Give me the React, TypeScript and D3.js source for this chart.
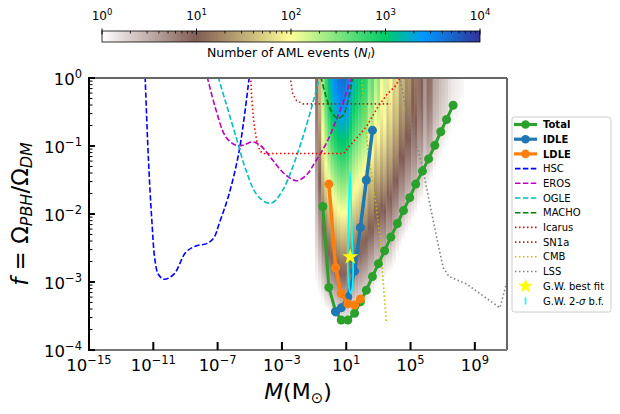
import React from 'react';
import * as d3 from 'd3';

const W = 620;
const H = 414;
const PL = 89, PR = 507, PT = 78, PB = 350;

// ---------- data (log10 values) ----------
const xTickExps = [-15, -11, -7, -3, 1, 5, 9];
const yTickExps = [0, -1, -2, -3, -4];
const cbTickExps = [0, 1, 2, 3, 4];

// heat map: mass bin centres (log10 M), log10 N at f = 1, log10 f where N falls to 1, profile shape
const heatLogM = [-0.84, -0.65, -0.45, -0.26, -0.07, 0.12, 0.32, 0.51, 0.70, 0.89, 1.09, 1.28, 1.47, 1.66, 1.86, 2.05,
  2.24, 2.43, 2.62, 2.82, 3.01, 3.20, 3.39, 3.59, 3.78, 3.97, 4.16, 4.36, 4.55, 4.74, 4.93, 5.13,
  5.32, 5.51, 5.70, 5.90, 6.09, 6.28, 6.47, 6.66, 6.86, 7.05, 7.24, 7.43, 7.63, 7.82, 8.01, 8.20];
const heatLogTop = [0.9, 1.6, 2.4, 2.8, 3.1, 3.35, 3.5, 3.6, 3.65, 3.65, 3.6, 3.4, 3.2, 3.1, 3.0, 2.9,
  2.85, 2.5, 2.65, 2.3, 2.45, 2.05, 2.2, 1.85, 2.0, 1.7, 1.8, 1.45, 1.55, 1.3, 1.35, 1.05,
  1.15, 0.9, 1.0, 0.65, 0.9, 0.85, 0.55, 0.5, 0.4, 0.35, 0.3, 0.2, 0.15, 0.12, 0.1, 0.06];
const heatLogFmin = [-3.1, -3.2, -3.3, -3.4, -3.45, -3.5, -3.55, -3.6, -3.65, -3.65, -3.65, -3.6, -3.55, -3.5, -3.45, -3.4,
  -3.35, -3.3, -3.2, -3.1, -3.05, -3.0, -2.95, -2.9, -2.85, -2.75, -2.6, -2.5, -2.4, -2.3, -2.2, -2.1,
  -2.0, -1.9, -1.8, -1.7, -1.6, -1.5, -1.4, -1.3, -1.2, -1.1, -1.0, -0.9, -0.8, -0.7, -0.6, -0.5];
const heatShape = [1.3, 1.3, 1.3, 1.3, 1.3, 1.3, 1.3, 1.3, 1.3, 1.3, 1.3, 1.3, 1.3, 1.3, 1.3, 1.3,
  1.3, 1.3, 1.3, 1.3, 1.3, 1.5, 1.5, 1.5, 1.5, 1.5, 1.5, 1.5, 1.5, 1.5, 1.5, 1.8,
  1.8, 1.8, 1.8, 1.8, 1.8, 1.8, 1.8, 1.8, 1.8, 1.8, 1.8, 1.8, 1.8, 1.8, 1.8, 1.8];
const heatBinWidth = 0.1925;

const totalLogM = [-0.455, -0.08, 0.34, 0.69, 1.10, 1.52, 1.88, 2.25, 2.63, 3.00, 3.39, 3.77, 4.18, 4.56, 4.95, 5.32, 5.74, 6.12, 6.51, 6.88, 7.24, 7.65];
const totalLogF = [-1.89, -3.08, -3.43, -3.56, -3.56, -3.46, -3.29, -3.12, -2.92, -2.73, -2.54, -2.34, -2.14, -1.95, -1.76, -1.56, -1.37, -1.19, -0.99, -0.79, -0.61, -0.40];

const idleLogM = [0.34, 0.69, 1.10, 1.52, 1.88, 2.25, 2.63];
const idleLogF = [-3.44, -3.38, -3.22, -2.84, -2.20, -1.50, -0.77];

const ldleLogM = [-0.08, 0.34, 0.69, 1.10, 1.52, 1.88];
const ldleLogF = [-1.56, -2.79, -3.17, -3.32, -3.34, -3.25];

const hscLogM = [-11.51, -11.47, -11.30, -11.09, -10.89, -10.68, -10.32, -9.70, -8.97, -8.35, -7.62, -7.21, -6.90, -6.28, -5.65, -5.03];
const hscLogF = [0.02, -0.23, -1.21, -2.10, -2.69, -2.89, -2.96, -2.88, -2.56, -2.47, -2.43, -2.34, -2.14, -1.70, -1.06, 0.02];

const erosLogM = [-7.65, -7.10, -6.48, -5.85, -5.44, -4.82, -4.30, -3.57, -2.84, -2.11, -1.49, -0.87, -0.24, 0.38, 1.00, 1.35];
const erosLogF = [0.02, -0.47, -0.87, -0.99, -0.99, -0.94, -1.00, -1.21, -1.41, -1.51, -1.43, -1.21, -0.96, -0.62, -0.23, 0.02];

const ogleLogM = [-6.97, -6.48, -5.85, -5.23, -4.61, -3.98, -3.57, -2.95, -2.33, -1.70, -1.08, -0.66];
const ogleLogF = [0.02, -0.37, -0.87, -1.36, -1.70, -1.83, -1.83, -1.65, -1.31, -0.87, -0.37, 0.02];

const machoLogM = [-0.58, -0.25, 0.10, 0.45, 0.80, 1.10, 1.30, 1.42];
const machoLogF = [0.02, -0.28, -0.50, -0.59, -0.55, -0.35, -0.12, 0.02];

const icarusLogM = [-4.95, -4.88, -4.75, -4.55, -4.35, -4.10, 0.85, 1.20, 1.75, 2.30, 2.90, 3.50, 4.05, 4.40];
const icarusLogF = [0.02, -0.30, -0.65, -0.95, -1.08, -1.11, -1.11, -1.00, -0.86, -0.70, -0.45, -0.25, -0.12, 0.02];

const sn1aLogM = [-2.49, -2.33, -2.10, -1.70, 3.78];
const sn1aLogF = [0.02, -0.23, -0.33, -0.38, -0.38];

const cmbLogM = [1.94, 2.08, 2.22, 2.35, 2.52, 2.75, 2.95, 3.17, 3.30, 3.50];
const cmbLogF = [0.02, -0.35, -0.70, -1.05, -1.35, -1.70, -2.05, -2.54, -3.00, -3.60];

const lssLogM = [4.30, 4.75, 5.37, 5.78, 6.20, 6.62, 7.03, 7.40, 8.49, 10.56, 11.10];
const lssLogF = [0.02, -0.47, -0.96, -1.36, -1.85, -2.34, -2.79, -2.92, -3.03, -3.38, -2.90];

const gwContourLogM = [1.24, 1.30, 1.36, 1.42, 1.42, 1.35, 1.26, 1.16, 1.10, 1.12, 1.17];
const gwContourLogF = [-1.38, -1.80, -2.30, -2.70, -2.95, -3.12, -3.16, -3.05, -2.80, -2.30, -1.80];

const gwBestLogM = 1.25;
const gwBestLogF = -2.63;

const legendLabels = ['Total', 'IDLE', 'LDLE', 'HSC', 'EROS', 'OGLE', 'MACHO', 'Icarus', 'SN1a', 'CMB', 'LSS', 'G.W. best fit', 'G.W. 2-σ b.f.'];

// ---------- colours ----------
const C_TOTAL = '#2ca02c', C_IDLE = '#1f77b4', C_LDLE = '#ff7f0e';
const DASH = '5.5,2.4';
const DOT = '1.5,2.5';

const terrain = d3.scaleLinear<string>()
  .domain([0, 0.15, 0.25, 0.5, 0.75, 1])
  .range(['rgb(51,51,153)', 'rgb(0,153,255)', 'rgb(0,204,102)', 'rgb(255,255,153)', 'rgb(128,92,84)', 'rgb(255,255,255)'])
  .interpolate(d3.interpolateRgb)
  .clamp(true);
const terrainR = (v: number) => terrain(1 - v);

const x = d3.scaleLog().domain([1e-15, 1e11]).range([PL, PR]);
const y = d3.scaleLog().domain([1e-4, 1]).range([PB, PT]);
const cbX = d3.scaleLog().domain([1, 1e4]).range([102, 480]);

const zip = (ms: number[], fs: number[]) => ms.map((m, i) => [m, fs[i]] as [number, number]);
const lineLin = d3.line<[number, number]>().x(d => x(10 ** d[0])).y(d => y(10 ** d[1]));
const lineSmooth = d3.line<[number, number]>().x(d => x(10 ** d[0])).y(d => y(10 ** d[1])).curve(d3.curveCatmullRom.alpha(0.5));
const lineClosed = d3.line<[number, number]>().x(d => x(10 ** d[0])).y(d => y(10 ** d[1])).curve(d3.curveCatmullRomClosed.alpha(0.5));

const FONT = 'DejaVu Sans, sans-serif';

function Pow10({ exp, size, sup }: { exp: number; size: number; sup: number }) {
  const s = exp < 0 ? '\u2212' + Math.abs(exp) : String(exp);
  return (
    <>
      <tspan fontSize={size}>10</tspan>
      <tspan fontSize={sup} dy={-size * 0.42}>{s}</tspan>
    </>
  );
}

export default function App() {
  const star = d3.symbol().type(d3.symbolStar);
  const constraints = [
    { d: lineSmooth(zip(hscLogM, hscLogF)), c: '#0000ff', dash: DASH },
    { d: lineSmooth(zip(erosLogM, erosLogF)), c: '#bf00bf', dash: DASH },
    { d: lineSmooth(zip(ogleLogM, ogleLogF)), c: '#00bfbf', dash: DASH },
    { d: lineSmooth(zip(machoLogM, machoLogF)), c: '#007f00', dash: DASH },
    { d: lineLin(zip(icarusLogM, icarusLogF)), c: '#ff0000', dash: DOT },
    { d: lineLin(zip(sn1aLogM, sn1aLogF)), c: '#a52a2a', dash: DOT },
    { d: lineSmooth(zip(cmbLogM, cmbLogF)), c: '#bfbf00', dash: DOT },
    { d: lineLin(zip(lssLogM, lssLogF)), c: '#808080', dash: DOT },
  ];
  const legendStyles = [
    { c: C_TOTAL, kind: 'marker' }, { c: C_IDLE, kind: 'marker' }, { c: C_LDLE, kind: 'marker' },
    { c: '#0000ff', kind: 'dash' }, { c: '#bf00bf', kind: 'dash' }, { c: '#00bfbf', kind: 'dash' }, { c: '#007f00', kind: 'dash' },
    { c: '#ff0000', kind: 'dot' }, { c: '#a52a2a', kind: 'dot' }, { c: '#bfbf00', kind: 'dot' }, { c: '#808080', kind: 'dot' },
    { c: '#ffff00', kind: 'star' }, { c: '#00ffff', kind: 'vline' },
  ];
  const minorY: number[] = [];
  for (let e = -4; e < 0; e++) for (let k = 2; k <= 9; k++) minorY.push(k * 10 ** e);
  const minorCb: number[] = [];
  for (let e = 0; e < 4; e++) for (let k = 2; k <= 9; k++) minorCb.push(k * 10 ** e);
  const nStops = 24;

  const series = [
    { m: totalLogM, f: totalLogF, c: C_TOTAL, lw: 3, r: 4.5 },
    { m: idleLogM, f: idleLogF, c: C_IDLE, lw: 3.5, r: 4.5 },
    { m: ldleLogM, f: ldleLogF, c: C_LDLE, lw: 3.5, r: 4.5 },
  ];

  return (
    <svg width={W} height={H} style={{ position: 'absolute', left: 0, top: 0, background: '#fff' }} fontFamily={FONT}>
      <defs>
        <clipPath id="plot"><rect x={PL} y={PT} width={PR - PL} height={PB - PT} /></clipPath>
        <linearGradient id="cbgrad" x1="0" x2="1" y1="0" y2="0">
          {[0, 0.25, 0.5, 0.75, 0.85, 1].map(v => <stop key={v} offset={v} stopColor={terrainR(v)} />)}
        </linearGradient>
        {heatLogM.map((_, i) => (
          <linearGradient key={i} id={`hc${i}`} x1="0" x2="0" y1="0" y2="1">
            {d3.range(nStops + 1).map(j => {
              const t = j / nStops;
              const ln = heatLogTop[i] * (1 - Math.pow(t, heatShape[i]));
              return <stop key={j} offset={t} stopColor={terrainR(ln / 4)} />;
            })}
          </linearGradient>
        ))}
      </defs>
      <rect x={0} y={0} width={W} height={H} fill="#fff" />

      {/* heat map */}
      <g clipPath="url(#plot)">
        {heatLogM.map((lm, i) => {
          const x0 = x(10 ** (lm - heatBinWidth / 2));
          const x1 = x(10 ** (lm + heatBinWidth / 2));
          const y0 = y(1);
          const y1 = y(10 ** heatLogFmin[i]);
          return <rect key={i} x={x0} y={y0} width={x1 - x0 + 0.4} height={y1 - y0} fill={`url(#hc${i})`} />;
        })}
      </g>

      {/* constraints */}
      <g clipPath="url(#plot)" fill="none">
        {constraints.map((c, i) => (
          <path key={i} d={c.d || ''} stroke={c.c} strokeWidth={1.6} strokeDasharray={c.dash} />
        ))}
        {series.map((s, i) => (
          <g key={i}>
            <path d={lineLin(zip(s.m, s.f)) || ''} stroke={s.c} strokeWidth={s.lw} strokeLinejoin="round" />
            {s.m.map((m, j) => <circle key={j} cx={x(10 ** m)} cy={y(10 ** s.f[j])} r={s.r} fill={s.c} />)}
          </g>
        ))}
        <path d={lineClosed(zip(gwContourLogM, gwContourLogF)) || ''} stroke="#00ffff" strokeWidth={1.6} fill="none" />
        <path d={star.size(80)() || ''} transform={`translate(${x(10 ** gwBestLogM)},${y(10 ** gwBestLogF)})`} fill="#ffff00" />
      </g>

      {/* spines */}
      <line x1={PL} x2={PR} y1={PT} y2={PT} stroke="#666" strokeWidth={2} />
      <line x1={PR} x2={PR} y1={PT} y2={PB} stroke="#666" strokeWidth={2} />
      <line x1={PL} x2={PR} y1={PB} y2={PB} stroke="#777" strokeWidth={2} />
      <line x1={PL} x2={PL} y1={PT - 1} y2={PB + 1} stroke="#000" strokeWidth={2} />

      {/* x ticks */}
      {xTickExps.map(e => (
        <g key={e}>
          <line x1={x(10 ** e)} x2={x(10 ** e)} y1={PB} y2={PB - 8} stroke="#000" strokeWidth={2} />
          <text x={x(10 ** e)} y={371} textAnchor="middle" fill="#000"><Pow10 exp={e} size={16.5} sup={11.5} /></text>
        </g>
      ))}
      {/* y ticks */}
      {minorY.map((v, i) => (
        <line key={i} x1={PL} x2={PL + 3.5} y1={y(v)} y2={y(v)} stroke="#000" strokeWidth={1} />
      ))}
      {yTickExps.map(e => (
        <g key={e}>
          <line x1={PL} x2={PL + 6} y1={y(10 ** e)} y2={y(10 ** e)} stroke="#000" strokeWidth={2} />
          <text x={82} y={y(10 ** e) + 7} textAnchor="end" fill="#000"><Pow10 exp={e} size={16.5} sup={11.5} /></text>
        </g>
      ))}

      {/* axis labels */}
      <text x={(PL + PR) / 2} y={399} textAnchor="middle" fontSize={22} fill="#000">
        <tspan fontStyle="italic">M</tspan><tspan>(M</tspan><tspan fontSize={15} dy={4}>⊙</tspan><tspan dy={-4}>)</tspan>
      </text>
      <text transform={`translate(28,${(PT + PB) / 2}) rotate(-90)`} textAnchor="middle" fontSize={23} fill="#000">
        <tspan fontStyle="italic">f</tspan><tspan> = Ω</tspan><tspan fontSize={16} dy={4} fontStyle="italic">PBH</tspan><tspan dy={-4}>/Ω</tspan><tspan fontSize={16} dy={4} fontStyle="italic">DM</tspan>
      </text>

      {/* colour bar */}
      <rect x={cbX(1)} y={31} width={cbX(1e4) - cbX(1)} height={11} fill="url(#cbgrad)" stroke="#000" strokeWidth={0.8} />
      {minorCb.map((v, i) => (
        <line key={i} x1={cbX(v)} x2={cbX(v)} y1={31} y2={33.5} stroke="#000" strokeWidth={0.8} />
      ))}
      {cbTickExps.map(e => (
        <g key={e}>
          <line x1={cbX(10 ** e)} x2={cbX(10 ** e)} y1={28.5} y2={34.5} stroke="#000" strokeWidth={1} />
          <text x={cbX(10 ** e)} y={20} textAnchor="middle" fill="#000"><Pow10 exp={e} size={12} sup={8.5} /></text>
        </g>
      ))}
      <text x={(cbX(1) + cbX(1e4)) / 2} y={57} textAnchor="middle" fontSize={12.5} fill="#000">
        Number of AML events (<tspan fontStyle="italic">N</tspan><tspan fontStyle="italic" fontSize={9} dy={2}>l</tspan><tspan dy={-2}>)</tspan>
      </text>

      {/* legend */}
      <rect x={512} y={117} width={99} height={195} rx={2.5} fill="#fff" stroke="#ccc" strokeWidth={1} />
      {legendLabels.map((lab, i) => {
        const cy = 124.5 + i * 14.7;
        const st = legendStyles[i];
        return (
          <g key={lab}>
            {st.kind === 'marker' && (
              <>
                <line x1={514} x2={537} y1={cy} y2={cy} stroke={st.c} strokeWidth={3.2} />
                <circle cx={525.5} cy={cy} r={4.3} fill={st.c} />
              </>
            )}
            {(st.kind === 'dash' || st.kind === 'dot') && (
              <line x1={515} x2={537} y1={cy} y2={cy} stroke={st.c} strokeWidth={1.6} strokeDasharray={st.kind === 'dash' ? DASH : DOT} />
            )}
            {st.kind === 'star' && (
              <path d={star.size(70)() || ''} transform={`translate(525.5,${cy})`} fill={st.c} />
            )}
            {st.kind === 'vline' && (
              <line x1={525.5} x2={525.5} y1={cy - 3.5} y2={cy + 3.5} stroke={st.c} strokeWidth={1.6} />
            )}
            <text x={543} y={cy + 3.6} fontSize={10} fontWeight={i < 3 ? 'bold' : 'normal'} fill="#000">
              {lab.includes('σ') ? (<>G.W. 2-<tspan fontStyle="italic">σ</tspan> b.f.</>) : lab}
            </text>
          </g>
        );
      })}
    </svg>
  );
}
